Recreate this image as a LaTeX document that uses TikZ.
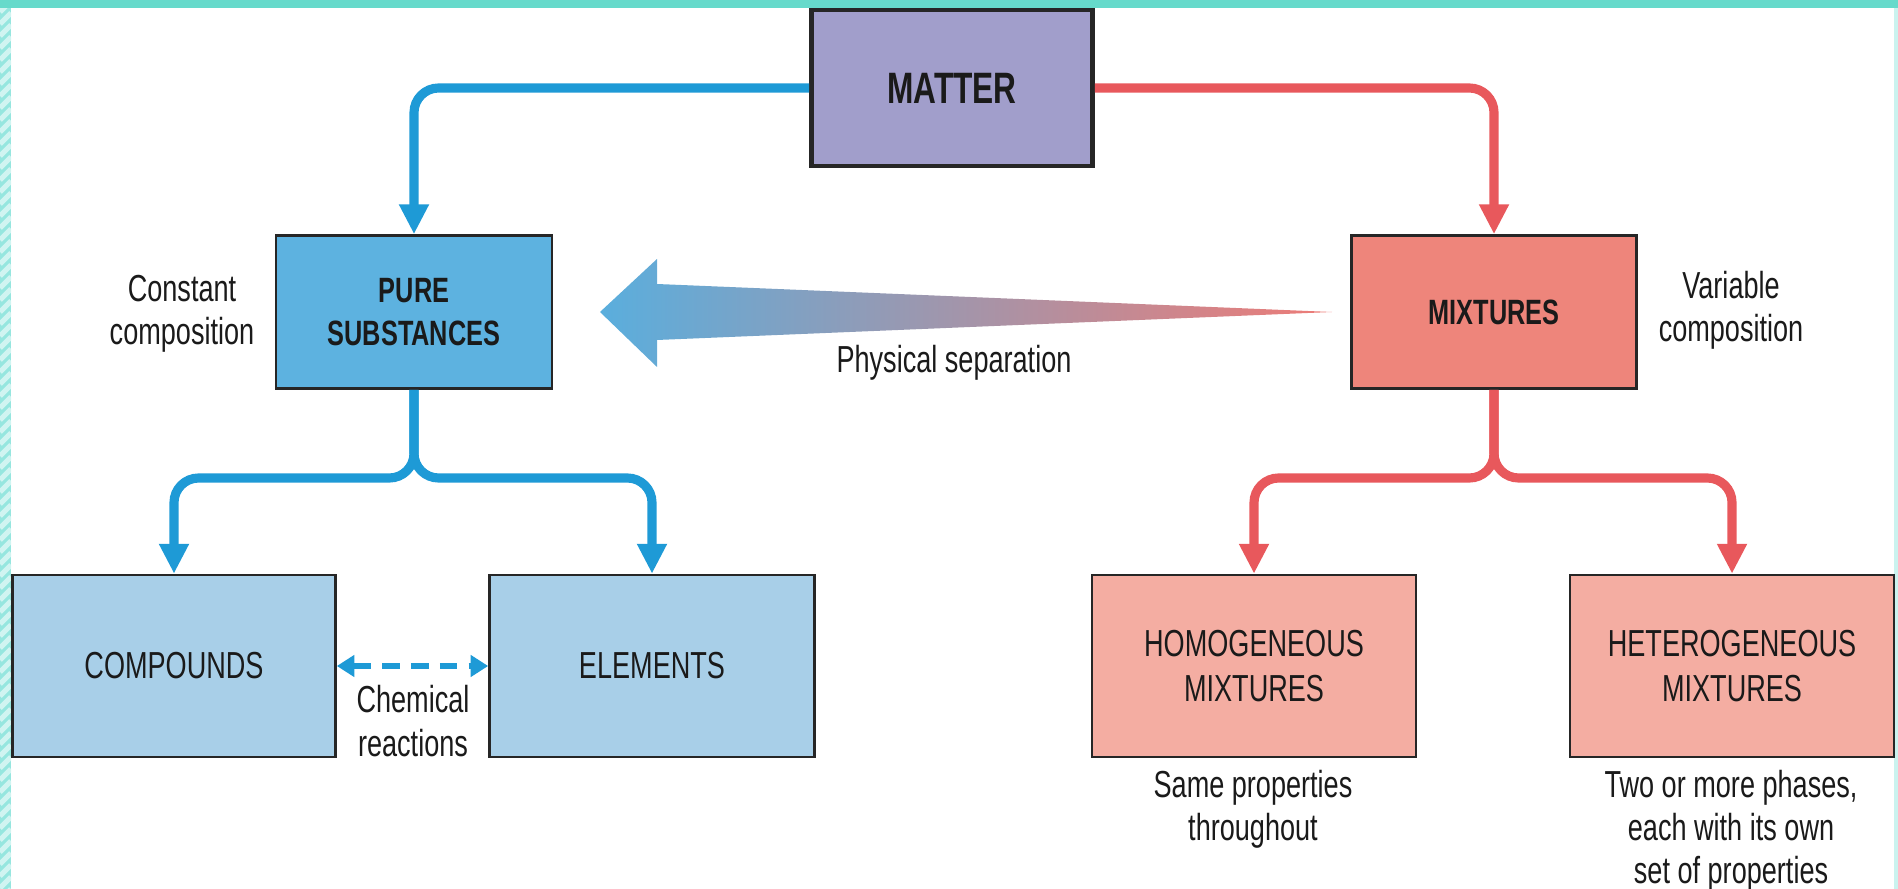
\documentclass[tikz,border=0pt]{standalone}
\usepackage{fontspec}
\setmainfont{Liberation Sans}[FakeStretch=0.72]
\usetikzlibrary{arrows.meta}

\definecolor{frameleft}{HTML}{96E6DF}
\definecolor{frametop}{HTML}{66DACB}
\definecolor{matterfill}{HTML}{A19ECB}
\definecolor{purefill}{HTML}{5DB2E0}
\definecolor{lightblue}{HTML}{A8CFE8}
\definecolor{mixfill}{HTML}{EE857B}
\definecolor{lightred}{HTML}{F4ADA2}
\definecolor{lineblue}{HTML}{1E9AD6}
\definecolor{linered}{HTML}{E8585C}
\definecolor{sepblue}{HTML}{5AAEDD}
\definecolor{sepred}{HTML}{EE7B76}
\definecolor{inktext}{HTML}{1A1A1A}

\begin{document}
\begin{tikzpicture}[x=0.01cm,y=-0.01cm,
	box_node/.style={draw=black!85,line width=0.7pt,inner sep=0pt,align=center,text=inktext,font=\fontsize{10.7}{12.8}\selectfont},
	head_node/.style={box_node,font=\bfseries\fontsize{10}{12.4}\selectfont},
	note_node/.style={align=center,text=inktext,font=\fontsize{10.7}{12.3}\selectfont},
	blue_line/.style={draw=lineblue,line width=2.6pt,rounded corners=7pt,-{Triangle[width=8pt,length=8.5pt]}},
	red_line/.style={blue_line,draw=linered}]
	\useasboundingbox (0,0) rectangle (1898,889);
	% frame
	\fill[frameleft] (0,0) rectangle (11,889);
	\begin{scope}
		\clip (0,0) rectangle (11,889);
		\foreach \k in {0,12,...,900}
			\draw[white!55!frameleft,line width=1.5pt] (0,\k) -- (11,\k-11);
	\end{scope}
	\fill[frametop] (0,0) rectangle (1898,8);
	\fill[frameleft!50] (1894,8) rectangle (1898,889);

	\node[head_node,fill=matterfill,line width=1.3pt,minimum width=2.81cm,minimum height=1.56cm,font=\bfseries\fontsize{12.5}{14}\selectfont] (matter) at (952,88) {MATTER};
	\node[head_node,fill=purefill,minimum width=2.76cm,minimum height=1.53cm] (pure) at (414,312) {PURE\\SUBSTANCES};
	\node[head_node,fill=mixfill,minimum width=2.85cm,minimum height=1.53cm] (mix) at (1494,312) {MIXTURES};
	\node[box_node,fill=lightblue,minimum width=3.23cm,minimum height=1.82cm] (comp) at (174,666) {COMPOUNDS};
	\node[box_node,fill=lightblue,minimum width=3.25cm,minimum height=1.82cm] (elem) at (652,666) {ELEMENTS};
	\node[box_node,fill=lightred,minimum width=3.24cm,minimum height=1.82cm] (homo) at (1254,666) {HOMOGENEOUS\\MIXTURES};
	\node[box_node,fill=lightred,minimum width=3.24cm,minimum height=1.82cm] (hetero) at (1732,666) {HETEROGENEOUS\\MIXTURES};

	\node[note_node] (const) at (182,314) {Constant\\composition};
	\node[note_node] (var) at (1731,310) {Variable\\composition};
	\node[note_node] (phys) at (954,363) {Physical separation};
	\node[note_node] (chem) at (413,721) {Chemical\\reactions};
	\node[note_node] (same) at (1253,809) {Same properties\\throughout};
	\node[note_node] (phases) at (1731,831) {Two or more phases,\\each with its own\\set of properties};

	% separation arrow
	\coordinate (septip) at (600,312);
	\coordinate (septail) at (1332,312);
	\shade[left color=sepblue,right color=sepred] (septip) -- (657,259) -- (657,284) -- (septail) -- (657,340) -- (657,367) -- cycle;

	\coordinate (pbr) at (414,478);
	\coordinate (mbr) at (1494,478);

	\draw[blue_line] (matter.west) -| (pure.north);
	\draw[red_line] (matter.east) -| (mix.north);
	\draw[blue_line] (pure.south) -- (pbr) -| (comp.north);
	\draw[blue_line] (pure.south) -- (pbr) -| (elem.north);
	\draw[red_line] (mix.south) -- (mbr) -| (homo.north);
	\draw[red_line] (mix.south) -- (mbr) -| (hetero.north);
	\draw[lineblue,line width=1.8pt,dash pattern=on 5pt off 3.2pt,{Triangle[width=6pt,length=5pt]}-{Triangle[width=6pt,length=5pt]}] (comp.east) -- (elem.west);
\end{tikzpicture}
\end{document}
